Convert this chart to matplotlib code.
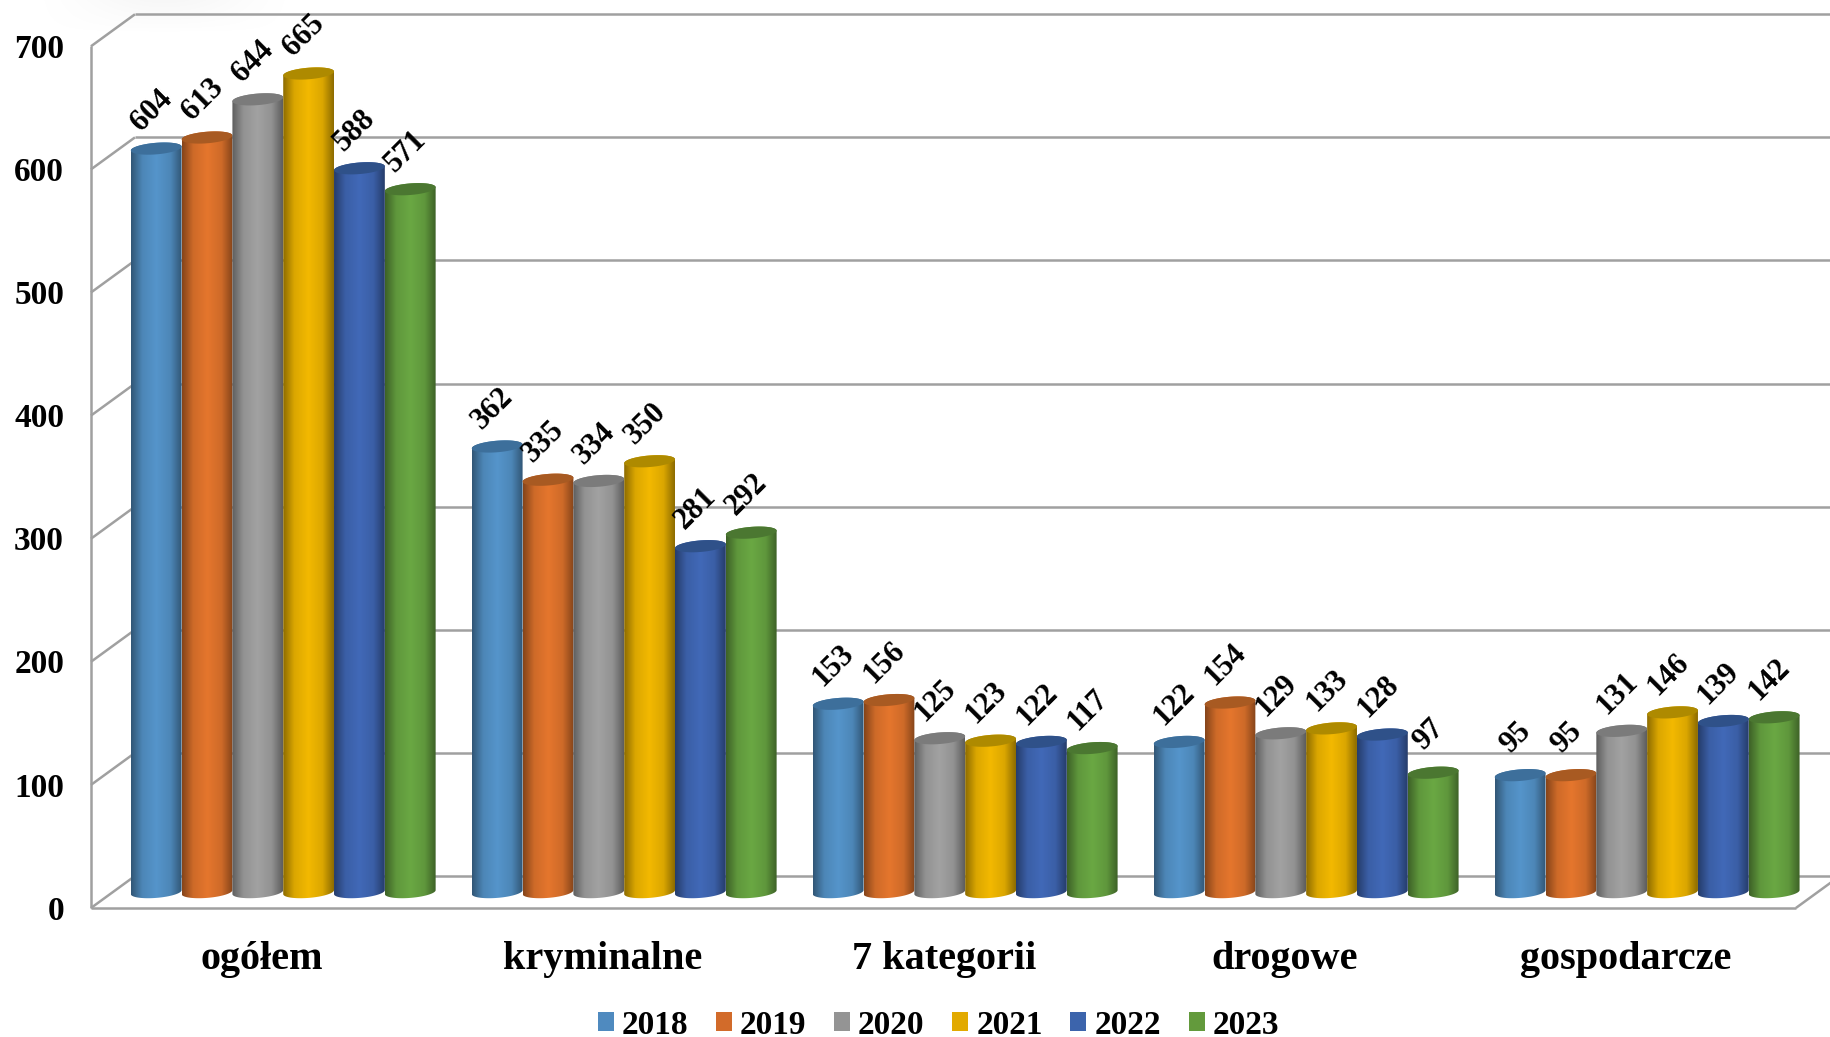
import numpy as np
import matplotlib
matplotlib.use("Agg")
import matplotlib.pyplot as plt
from matplotlib.colors import LinearSegmentedColormap
from matplotlib.patches import Patch, Polygon

categories = ["ogółem", "kryminalne", "7 kategorii", "drogowe", "gospodarcze"]
years = ["2018", "2019", "2020", "2021", "2022", "2023"]

values_2018 = [604, 362, 153, 122, 95]
values_2019 = [613, 335, 156, 154, 95]
values_2020 = [644, 334, 125, 129, 131]
values_2021 = [665, 350, 123, 133, 146]
values_2022 = [588, 281, 122, 128, 139]
values_2023 = [571, 292, 117, 97, 142]

y_ticks = [0, 100, 200, 300, 400, 500, 600, 700]

# Flat colour for the legend, light colour for the middle of the cylinder, colour of its lid.
legend_colors = ["#4f8abf", "#d26b2a", "#949494", "#e2aa00", "#3c64ac", "#639a3c"]
body_colors = ["#5595cb", "#e5762d", "#a2a2a2", "#f3b900", "#4169b8", "#6aa843"]
lid_colors = ["#3d6f9b", "#a85a22", "#7b7b7b", "#ae8a00", "#2f5189", "#4b7731"]

GRID_COLOR = "#a0a0a0"
BAR_WIDTH = 0.149
BAR_SHIFT = -0.0022
LID_HEIGHT = 4.7
LID_TILT = 1.6

# The fake 3D box, in data units.
DEPTH_X = 0.129
DEPTH_Y = 26
FRONT_LEFT = -0.566
FRONT_RIGHT = 4.434
FRONT_BOTTOM = -12.9


def LidOutline(center, value, start, stop):
    # Part of the tilted ellipse, the right side sits a little higher than the left.
    t = np.linspace(start, stop, 50)
    x = center + BAR_WIDTH / 2 * np.cos(t)
    y = value + LID_TILT * np.cos(t) + LID_HEIGHT * np.sin(t)
    return np.column_stack([x, y])


def DrawCylinder(ax, center, value, body_color, lid_color):
    rgb = matplotlib.colors.to_rgb(body_color)
    dark = tuple(c * 0.58 for c in rgb)
    mid = tuple(c * 0.9 for c in rgb)
    # Dark only close to the edges, the middle of the cylinder stays flat.
    cmap = LinearSegmentedColormap.from_list(
        "body", [(0, dark), (0.22, mid), (0.5, rgb), (0.78, mid), (1, dark)])
    shade = np.linspace(0, 1, 128).reshape(1, -1)

    left = center - BAR_WIDTH / 2
    right = center + BAR_WIDTH / 2
    image = ax.imshow(shade, cmap=cmap, aspect="auto", interpolation="bilinear",
                      extent=(left, right, -LID_HEIGHT - LID_TILT, value + LID_HEIGHT + LID_TILT),
                      zorder=3)

    # Bottom half of the base and top half of the lid make the body outline.
    outline = np.vstack([LidOutline(center, 0, np.pi, 2 * np.pi),
                         LidOutline(center, value, 0, np.pi)])
    clip = Polygon(outline, closed=True, transform=ax.transData)
    image.set_clip_path(clip)

    lid = Polygon(LidOutline(center, value, 0, 2 * np.pi), closed=True,
                  facecolor=lid_color, edgecolor="none", zorder=3)
    ax.add_patch(lid)


def DrawBox(ax, right_limit):
    line_style = {"color": GRID_COLOR, "linewidth": 1.8, "zorder": 1, "solid_capstyle": "butt"}
    for tick in y_ticks:
        front = FRONT_BOTTOM + tick
        back = front + DEPTH_Y
        ax.plot([FRONT_LEFT, FRONT_LEFT + DEPTH_X], [front, back], **line_style)
        ax.plot([FRONT_LEFT + DEPTH_X, right_limit], [back, back], **line_style)
    ax.plot([FRONT_LEFT, FRONT_LEFT], [FRONT_BOTTOM, FRONT_BOTTOM + y_ticks[-1]], **line_style)
    ax.plot([FRONT_LEFT, FRONT_RIGHT], [FRONT_BOTTOM, FRONT_BOTTOM], **line_style)
    ax.plot([FRONT_RIGHT, FRONT_RIGHT + DEPTH_X], [FRONT_BOTTOM, FRONT_BOTTOM + DEPTH_Y], **line_style)


def DrawSmudge(ax):
    # Very faint grey shadow left over at the top edge of the picture.
    fade_x = np.hanning(200)
    fade_y = np.linspace(1, 0, 40)
    smudge = np.ones((40, 200, 4)) * 0.75
    smudge[..., 3] = 0.12 * np.outer(fade_y, fade_x)
    ax.imshow(smudge, aspect="auto", extent=(-0.75, 0.05, 698, 724.7), zorder=0)


def main():
    plt.rcParams["font.family"] = "Liberation Serif"

    fig = plt.figure(figsize=(18.31, 10.37), dpi=100)
    ax = fig.add_axes([0, 0, 1, 1])
    ax.axis("off")

    x_limits = (-0.8328, 4.537)
    DrawSmudge(ax)
    DrawBox(ax, x_limits[1])

    series = [values_2018, values_2019, values_2020, values_2021, values_2022, values_2023]
    for i, values in enumerate(series):
        for j, value in enumerate(values):
            center = j + BAR_SHIFT + (i - 2.5) * BAR_WIDTH
            DrawCylinder(ax, center, value, body_colors[i], lid_colors[i])
            ax.annotate(str(value), (center, value), xytext=(-3.2, 27.2),
                        textcoords="offset points", ha="center", va="center",
                        rotation=45, rotation_mode="anchor", fontsize=22, fontweight="bold",
                        zorder=5, color="black")

    for tick in y_ticks:
        ax.text(FRONT_LEFT - 0.079, FRONT_BOTTOM + tick - 2.6, str(tick), ha="right", va="center",
                fontsize=24, fontweight="bold")

    for j, name in enumerate(categories):
        ax.text(j - 0.0645, -55.0, name, ha="center", va="center", fontsize=29, fontweight="bold")

    handles = [Patch(facecolor=c, edgecolor="none") for c in legend_colors]
    ax.legend(handles, years, ncol=6, loc="center", bbox_to_anchor=(0.5125, 0.0115),
              frameon=False, prop={"size": 24, "weight": "bold"},
              handlelength=0.48, handleheight=0.48, handletextpad=0.24, columnspacing=0.83)

    ax.set_xlim(*x_limits)
    ax.set_ylim(-117.7, 724.7)

    fig.savefig("out.png", dpi=100)


if __name__ == "__main__":
    main()
